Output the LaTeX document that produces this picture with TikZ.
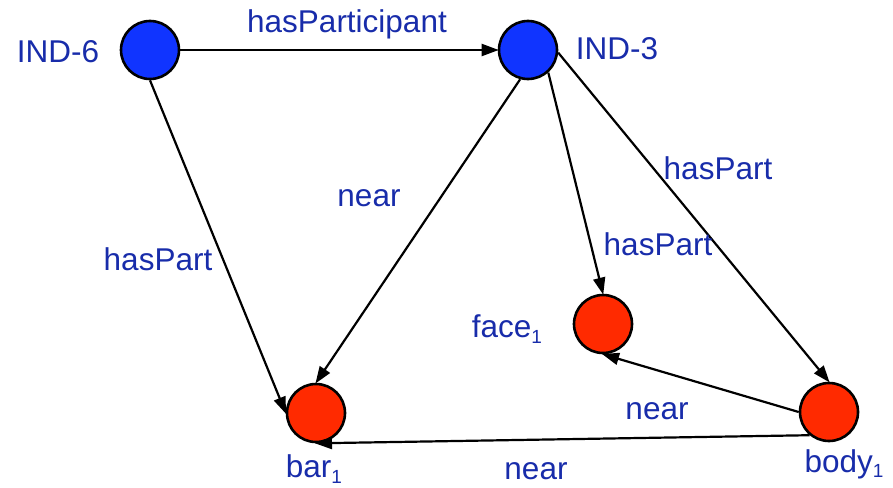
\documentclass[tikz,border=0pt]{standalone}
\usepackage{fontspec}
\setmainfont{Liberation Sans}
\usetikzlibrary{arrows.meta}
\definecolor{txtblue}{RGB}{24,44,170}
\definecolor{indblue}{RGB}{16,52,255}
\definecolor{objred}{RGB}{255,42,0}
\newcommand{\subone}{\raisebox{-0.35ex}{\fontsize{19}{20}\selectfont 1}}
\begin{document}
\begin{tikzpicture}[x=1pt,y=-1pt,
  font=\fontsize{31.5}{36}\selectfont,
  ind/.style={circle,draw=black,line width=2.6pt,fill=indblue,minimum size=58pt,inner sep=0pt},
  obj/.style={circle,draw=black,line width=2.6pt,fill=objred,minimum size=58pt,inner sep=0pt},
  lbl/.style={text=txtblue,inner sep=0pt,anchor=center},
  conn/.style={line width=2.2pt,-{Triangle[length=17pt,width=12pt]},shorten >=-1pt}]
\useasboundingbox (0,0) rectangle (893,487);
\node[ind] (ind6) at (150,50) {};
\node[ind] (ind3) at (528,50) {};
\node[obj] (bar) at (316,413) {};
\node[obj] (face) at (603,324) {};
\node[obj] (body) at (829,412) {};
\node[lbl] (l6) at (58,52) {IND-6};
\node[lbl] (l3) at (617,49) {IND-3};
\node[lbl] (lbar) at (314,469) {bar\subone};
\node[lbl] (lface) at (507,329) {face\subone};
\node[lbl] (lbody) at (844,464) {body\subone};
\draw[conn] (ind6) -- (ind3);
\draw[conn] (ind6.south) -- (bar.west);
\draw[conn] (ind3.255) -- (bar.north);
\draw[conn] (ind3.-48) -- (face.north);
\draw[conn] (ind3.-5) -- (body.north);
\draw[conn] (body.west) -- (face.south);
\draw[conn] (body.-130) -- (bar.south);
\node[lbl] (e1) at (347,24) {hasParticipant};
\node[lbl] (e2) at (158,259) {hasPart};
\node[lbl] (e3) at (369,198) {near};
\node[lbl] (e4) at (658,244) {hasPart};
\node[lbl] (e5) at (718,168) {hasPart};
\node[lbl] (e6) at (657,411) {near};
\node[lbl] (e7) at (536,471) {near};
\end{tikzpicture}
\end{document}
